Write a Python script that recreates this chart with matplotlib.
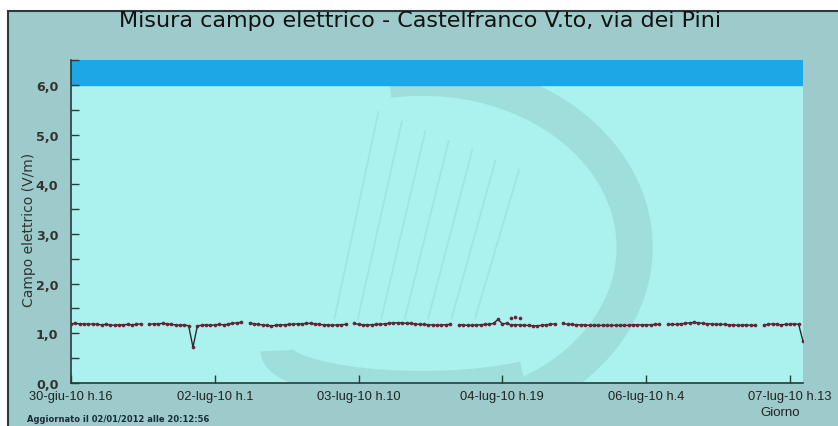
import numpy as np
import matplotlib
matplotlib.use("Agg")
import matplotlib.pyplot as plt
from matplotlib.patches import Rectangle, Arc
from matplotlib.ticker import MultipleLocator, FuncFormatter

# ---- data (hourly readings, V/m) ----
nan = np.nan
seg0 = [1.19, 1.20, 1.19, 1.19, 1.18, 1.19, 1.18, 1.17, 1.18, 1.17, 1.16, 1.17, 1.17, 1.18, 1.17, 1.18, 1.19]
seg1 = [1.18, 1.19, 1.19, 1.20, 1.19, 1.18, 1.17, 1.16, 1.17, 1.15, 0.72, 1.15, 1.16, 1.17, 1.16, 1.17, 1.18, 1.17, 1.18, 1.20, 1.21, 1.22]
seg2 = [1.21, 1.19, 1.18, 1.17, 1.16, 1.15, 1.16, 1.17, 1.17, 1.18, 1.18, 1.19, 1.19, 1.20, 1.20, 1.19, 1.18, 1.17, 1.17, 1.16, 1.17, 1.17, 1.18]
seg3 = [1.20, 1.18, 1.17, 1.17, 1.17, 1.18, 1.18, 1.19, 1.20, 1.21, 1.21, 1.21, 1.20, 1.20, 1.19, 1.18, 1.18, 1.17, 1.17, 1.16, 1.17, 1.17, 1.18]
seg4 = [1.17, 1.17, 1.16, 1.16, 1.17, 1.17, 1.18, 1.18, 1.20, 1.28, 1.19, 1.20, 1.17, 1.17, 1.17, 1.16, 1.16, 1.15, 1.15, 1.16, 1.17, 1.18, 1.19]
seg5 = [1.20, 1.18, 1.18, 1.17, 1.17, 1.17, 1.16, 1.16, 1.16, 1.16, 1.16, 1.16, 1.16, 1.16, 1.16, 1.16, 1.17, 1.17, 1.17, 1.17, 1.17, 1.18, 1.18]
seg6 = [1.18, 1.18, 1.18, 1.19, 1.20, 1.21, 1.22, 1.21, 1.20, 1.19, 1.19, 1.18, 1.18, 1.18, 1.17, 1.17, 1.16, 1.16, 1.17, 1.16, 1.16]
seg7 = [1.16, 1.18, 1.19, 1.18, 1.17, 1.18, 1.18, 1.19, 1.18, 0.84]
values = seg0 + [nan] + seg1 + [nan] + seg2 + [nan] + seg3 + [nan] + seg4 + [nan] + seg5 + [nan] + seg6 + [nan] + seg7
hours = list(range(len(values)))

peak_hours = [101, 102, 103]
peak_values = [1.31, 1.32, 1.31]

tick_hours = [0, 33, 66, 99, 132, 165]
tick_labels = ["30-giu-10 h.16", "02-lug-10 h.1", "03-lug-10 h.10",
               "04-lug-10 h.19", "06-lug-10 h.4", "07-lug-10 h.13"]
limit_low, limit_high = 6.0, 6.5

W, H = 838, 427
fig = plt.figure(figsize=(W / 100, H / 100), dpi=100, facecolor="white")

# outer panel
fig.patches.append(Rectangle((8 / W, -0.01), 1.0, 1 - 12 / H + 0.01, transform=fig.transFigure,
                             facecolor="#9dcbcb", edgecolor="#2a3a3a", lw=1.5, zorder=-10))

L, R, T, B = 71, 803, 61, 384
ax = fig.add_axes([L / W, (H - B) / H, (R - L) / W, (B - T) / H])
ax.set_zorder(5)
ax.set_facecolor("#abf1ee")
ax.set_xlim(0, 168)
ax.set_ylim(0, 6.5)

# faint watermark
ax.add_patch(Arc((0.48, 0.42), 0.58, 1.05, theta1=-95, theta2=95, transform=ax.transAxes,
                 color="#9edfdb", lw=26, zorder=0.5))
ax.add_patch(Arc((0.48, 0.10), 0.40, 0.22, theta1=180, theta2=330, transform=ax.transAxes,
                 color="#9edfdb", lw=22, zorder=0.5))
for i in range(7):
    x0 = 0.42 + i * 0.032
    ax.plot([x0, x0 - 0.06], [0.84 - i * 0.03, 0.20], transform=ax.transAxes,
            color="#9ee4e0", lw=1.2, zorder=0.6)

ax.axhspan(limit_low, limit_high, color="#1ea7e6", zorder=1)

ax.plot(hours, values, color="#2b2b2b", lw=1.0, marker="o", ms=2.2,
        mfc="#7a1f3a", mec="#5a1a2a", mew=0.4, zorder=3)
ax.plot(peak_hours, peak_values, ls="none", marker="o", ms=2.2,
        mfc="#7a1f3a", mec="#5a1a2a", mew=0.4, zorder=3)

for s in ["top", "right"]:
    ax.spines[s].set_visible(False)
for s in ["left", "bottom"]:
    ax.spines[s].set_color("#2a3a3a")
    ax.spines[s].set_linewidth(1.2)

ax.yaxis.set_major_locator(MultipleLocator(1.0))
ax.yaxis.set_minor_locator(MultipleLocator(0.5))
ax.yaxis.set_major_formatter(FuncFormatter(lambda v, p: f"{v:.1f}".replace(".", ",")))
ax.set_xticks(tick_hours)
ax.set_xticklabels(tick_labels)
ax.tick_params(axis="both", which="both", direction="in", length=6, width=1, color="#2a3a3a")
ax.tick_params(axis="y", which="major", pad=9)
ax.tick_params(axis="x", pad=5)
for lab in ax.get_xticklabels():
    lab.set_fontfamily("Liberation Sans")
    lab.set_fontsize(9.3)
    lab.set_color("#222222")
for lab in ax.get_yticklabels():
    lab.set_fontfamily("DejaVu Sans")
    lab.set_fontsize(9.2)
    lab.set_color("#333333")
    lab.set_fontweight("semibold")

fig.text(420 / W, 1 - 21 / H, "Misura campo elettrico - Castelfranco V.to, via dei Pini",
         ha="center", va="center", fontsize=16, family="DejaVu Sans", color="#111111")
fig.text(29 / W, 1 - 230 / H, "Campo elettrico (V/m)", rotation=90, ha="center", va="center",
         fontsize=10, family="DejaVu Sans", color="#333333")
fig.text(800 / W, 1 - 413 / H, "Giorno", ha="right", va="center", fontsize=9.5,
         family="Liberation Sans", color="#222222")
fig.text(27 / W, 1 - 420 / H, "Aggiornato il 02/01/2012 alle 20:12:56", ha="left", va="center",
         fontsize=6, family="DejaVu Sans", fontweight="bold", color="#1a2a3a")

fig.savefig("out.png", dpi=100, facecolor="white")
